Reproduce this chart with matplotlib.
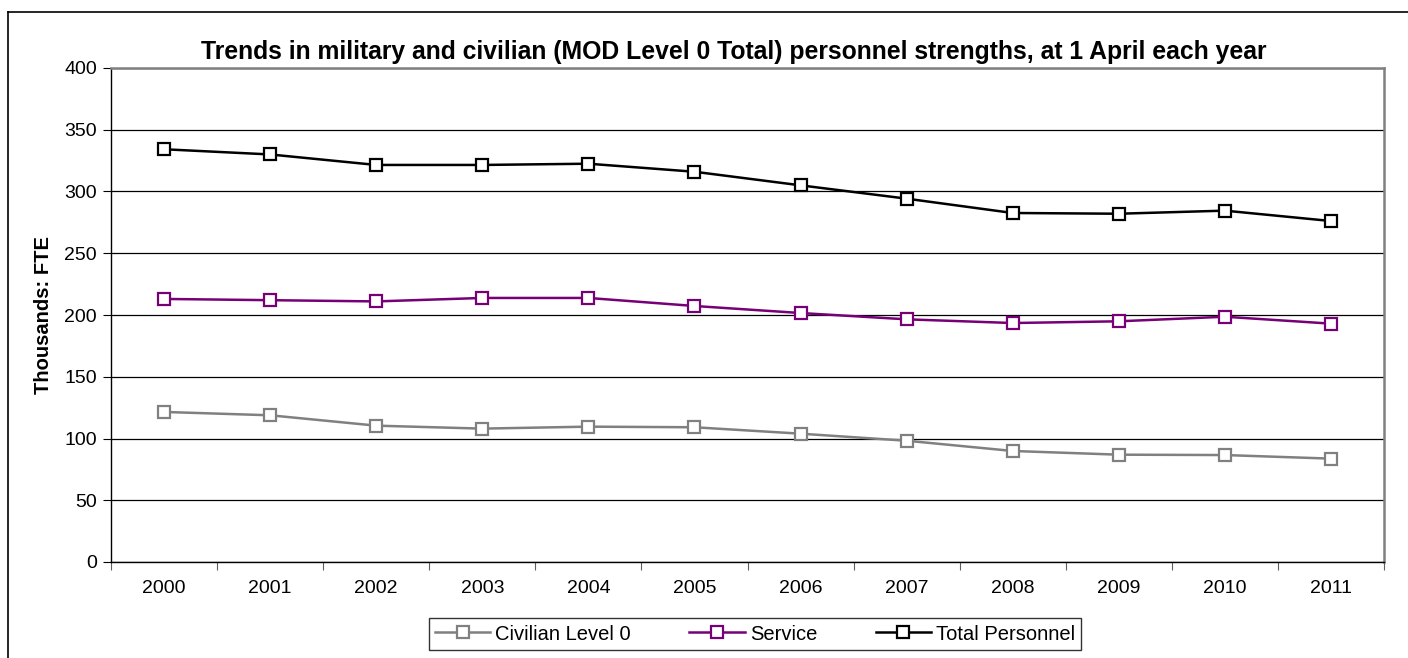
import numpy as np
import matplotlib
matplotlib.use("Agg")
import matplotlib.pyplot as plt
from matplotlib.lines import Line2D

plt.rcParams['font.family'] = ['Liberation Sans', 'DejaVu Sans']

years = ['2000', '2001', '2002', '2003', '2004', '2005',
         '2006', '2007', '2008', '2009', '2010', '2011']
civilian = [121.5, 118.8, 110.4, 108.0, 109.6, 109.1,
            103.9, 98.2, 89.9, 86.9, 86.6, 83.7]
service = [213.0, 212.0, 211.0, 213.8, 213.8, 207.3,
           201.6, 196.5, 193.5, 194.9, 198.6, 193.0]
total = [334.2, 330.0, 321.5, 321.5, 322.5, 316.0,
         305.0, 294.2, 282.6, 282.0, 284.5, 276.1]

fig = plt.figure(figsize=(14.08, 6.58), dpi=100)
ax = fig.add_axes([111 / 1408, 96 / 658, 1273 / 1408, 494 / 658])

x = np.arange(len(years))
style = dict(marker='s', markersize=9, markerfacecolor='white',
             markeredgewidth=1.6, linewidth=1.8)
ax.plot(x, civilian, color='#808080', label='Civilian Level 0', **style)
ax.plot(x, service, color='#770077', label='Service', **style)
ax.plot(x, total, color='black', label='Total Personnel', **style)

ax.set_ylim(0, 400)
ax.set_yticks(np.arange(0, 401, 50))
ax.set_xlim(-0.5, len(years) - 0.5)

# category axis: tick marks between years, labels centred
ax.set_xticks(np.arange(-0.5, len(years), 1.0))
ax.set_xticklabels([])
ax.set_xticks(x, minor=True)
ax.set_xticklabels(years, minor=True)
ax.tick_params(axis='x', which='major', length=6, direction='out', color='#606060')
ax.tick_params(axis='x', which='minor', length=0, pad=13, labelsize=14)
ax.tick_params(axis='y', length=6, direction='out', labelsize=14, pad=4)

ax.grid(axis='y', color='black', linewidth=0.9)
ax.set_axisbelow(True)
for side in ['top', 'right']:
    ax.spines[side].set_color('#808080')
    ax.spines[side].set_linewidth(1.8)
for side in ['left', 'bottom']:
    ax.spines[side].set_color('black')
    ax.spines[side].set_linewidth(1.0)

ax.set_ylabel('Thousands: FTE', fontsize=14.5, fontweight='bold', labelpad=8)
ax.set_title('Trends in military and civilian (MOD Level 0 Total) personnel strengths, at 1 April each year',
             fontsize=17.8, fontweight='bold', pad=6.5, x=0.489)

leg = ax.legend(loc='center', bbox_to_anchor=(755 / 1408, 24 / 658),
                bbox_transform=fig.transFigure, ncol=3, fontsize=14.5,
                frameon=True, fancybox=False, edgecolor='black',
                handlelength=2.75, columnspacing=2.9, handletextpad=0.25,
                borderpad=0.3)
leg.get_frame().set_linewidth(1.0)

# outer chart frame (only left and top edges fall inside the canvas)
fig.add_artist(Line2D([8 / 1408, 8 / 1408], [0, 646 / 658], color='black',
                      linewidth=1.2, transform=fig.transFigure))
fig.add_artist(Line2D([8 / 1408, 1], [646 / 658, 646 / 658], color='black',
                      linewidth=1.2, transform=fig.transFigure))

fig.savefig('out.png', dpi=100)
